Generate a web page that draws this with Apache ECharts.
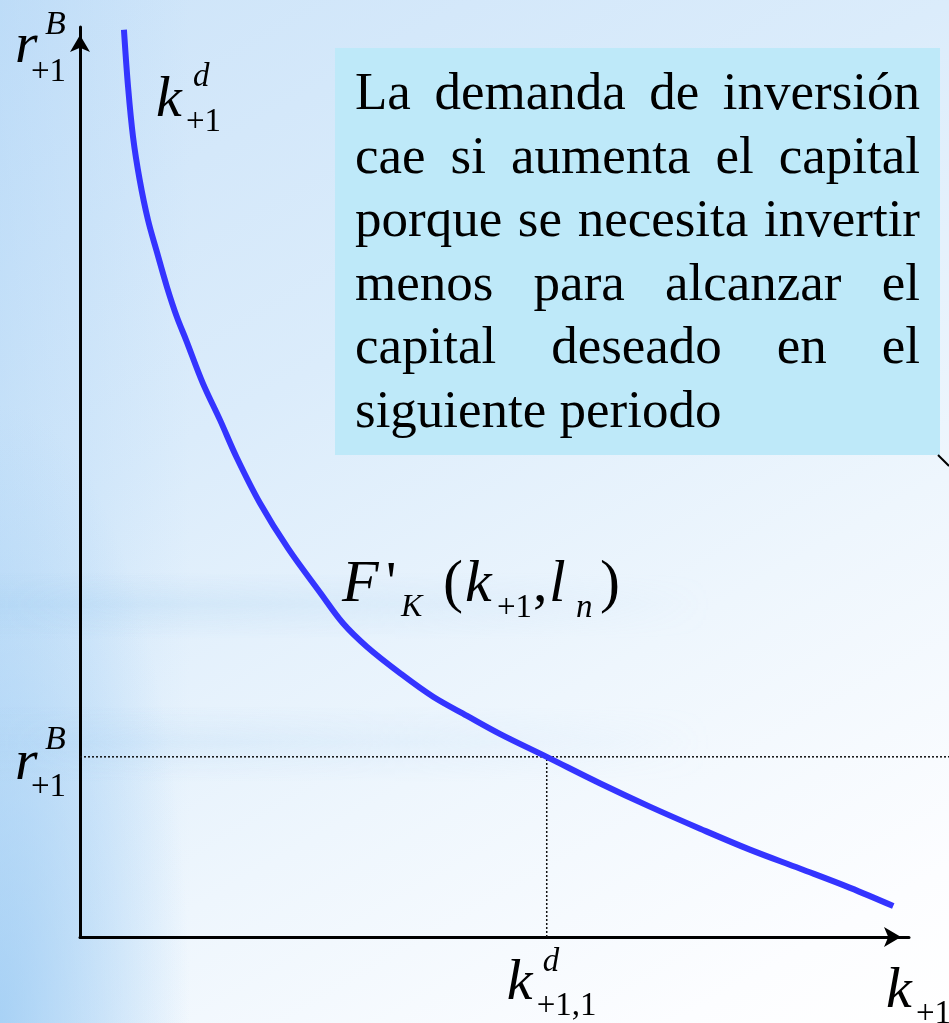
<!DOCTYPE html>
<html>
<head>
<meta charset="utf-8">
<script src="https://cdn.jsdelivr.net/npm/echarts@6/dist/echarts.min.js"></script>
<style>
  html, body { margin: 0; padding: 0; }
  #wrap { position: relative; width: 949px; height: 1023px; overflow: hidden;
    background:
      radial-gradient(ellipse 190px 620px at 0% 100%, rgba(150,200,243,0.7) 0%, rgba(150,200,243,0) 100%),
      linear-gradient(90deg, rgba(160,205,245,0.35) 0%, rgba(160,205,245,0) 20%),
      linear-gradient(150deg, #cde4f9 0%, #dbecfb 35%, #eef6fd 65%, #fcfdff 90%, #ffffff 100%);
  }
  #bands { position: absolute; left: 0; top: 0; width: 949px; height: 1023px;
    background: linear-gradient(180deg,
      rgba(0,0,0,0) 0%, rgba(0,0,0,0) 56%,
      rgba(165,208,242,0.3) 59%, rgba(0,0,0,0) 62.5%,
      rgba(0,0,0,0) 69%, rgba(175,213,245,0.3) 72.5%, rgba(0,0,0,0) 76.5%, rgba(0,0,0,0) 100%);
    -webkit-mask-image: linear-gradient(90deg, #000 0%, rgba(0,0,0,0.6) 35%, rgba(0,0,0,0) 75%);
    mask-image: linear-gradient(90deg, #000 0%, rgba(0,0,0,0.6) 35%, rgba(0,0,0,0) 75%);
  }
  #chart { position: absolute; left: 0; top: 0; width: 949px; height: 1023px; }
</style>
</head>
<body>
<div id="wrap"><div id="bands"></div><div id="chart"></div></div>
<script>
// Demand for capital k(+1) against the interest rate r(+1): F'_K(k+1, l_n)
const capital = [5.3, 5.8, 6.4, 7.2, 8.2, 9.3, 10.5, 11.7, 12.8, 14.8, 16.9, 18.9, 21.7, 25.1, 29.0,
                 31.7, 34.6, 38.6, 42.6, 46.7, 50.7, 56.3, 62.7, 68.8, 74.8, 80.8, 86.9, 92.9, 98.1];
const rate    = [99.7, 93.4, 87.9, 83.2, 78.8, 75.2, 71.4, 68.1, 65.6, 60.9, 56.8, 52.7, 47.7, 42.7, 37.8,
                 34.5, 31.9, 29.0, 26.4, 24.3, 22.3, 19.8, 16.9, 14.3, 11.9, 9.6, 7.5, 5.4, 3.4];
const rateB = 19.8;        // r^B_{+1}
const capitalD = 56.3;     // k^d_{+1,1}
const guideEnd = 104.8;    // horizontal guide runs on past the axis arrow

const noteLines = [
  'La demanda de inversión',
  'cae si aumenta el capital',
  'porque se necesita invertir',
  'menos para alcanzar el',
  'capital deseado en el',
  'siguiente periodo'
];

const SERIF = '"Liberation Serif", "Times New Roman", serif';
const curveData = capital.map((k, i) => [k, rate[i]]);

const axisLineStyle = {
  show: true, onZero: false, symbol: ['none', 'arrow'], symbolSize: [15, 17],
  symbolOffset: [0, -8], lineStyle: { color: '#000', width: 3 }
};
const hiddenParts = { axisTick: { show: false }, axisLabel: { show: false }, splitLine: { show: false } };

const chart = echarts.init(document.getElementById('chart'), null, { renderer: 'canvas' });
chart.setOption({
  backgroundColor: 'transparent',
  animation: false,
  grid: [
    { left: 80, right: 40, top: 27, bottom: 86, containLabel: false, outerBoundsMode: 'none' },
    // same vertical scale, wider horizontal span for the r^B guide
    { left: 80, right: 0, top: 27, bottom: 86, containLabel: false, outerBoundsMode: 'none' }
  ],
  xAxis: [
    Object.assign({ type: 'value', gridIndex: 0, min: 0, max: 100, axisLine: axisLineStyle }, hiddenParts),
    { type: 'value', gridIndex: 1, min: 0, max: guideEnd, show: false }
  ],
  yAxis: [
    Object.assign({ type: 'value', gridIndex: 0, min: 0, max: 100, axisLine: axisLineStyle }, hiddenParts),
    { type: 'value', gridIndex: 1, min: 0, max: 100, show: false }
  ],
  series: [
    { type: 'line', xAxisIndex: 1, yAxisIndex: 1, data: [[0, rateB], [guideEnd, rateB]],
      showSymbol: false, silent: true, lineStyle: { color: '#111', width: 1.5, type: [2, 2] }, z: 1 },
    { type: 'line', data: [[capitalD, 0], [capitalD, rateB]], clip: false, showSymbol: false, silent: true,
      lineStyle: { color: '#111', width: 1.5, type: [2, 2] }, z: 1 },
    { type: 'line', data: curveData, smooth: 0.35, clip: false, showSymbol: false, silent: true,
      lineStyle: { color: '#3434ff', width: 6, cap: 'butt' }, z: 3 }
  ]
});

// text helper: place a glyph run by its alphabetic baseline
function glyph(text, x, baseline, size, italic) {
  return {
    type: 'text', x: x, y: baseline - 0.28 * size, silent: true, z: 10,
    style: { text: text, font: (italic ? 'italic ' : '') + size + 'px ' + SERIF,
             fill: '#000', align: 'left', verticalAlign: 'middle' }
  };
}

const px = (p) => chart.convertToPixel({ gridIndex: 0 }, p);
const eqPt = px([capitalD, rateB]);
const originPt = px([0, 0]);
const yEndPt = px([0, 100]);
const xEndPt = px([100, 0]);
const startPt = px(curveData[0]);
const main = 58, small = 33;

const g = [];
// y-axis name r^B_{+1}
g.push(glyph('r', originPt[0] - 65, yEndPt[1] + 36, main, true));
g.push(glyph('B', originPt[0] - 35, yEndPt[1] + 8, small + 1, true));
g.push(glyph('+1', originPt[0] - 49, yEndPt[1] + 55, small, false));
// r^B_{+1} level
g.push(glyph('r', originPt[0] - 65, eqPt[1] + 23, main, true));
g.push(glyph('B', originPt[0] - 35, eqPt[1] - 7, small + 1, true));
g.push(glyph('+1', originPt[0] - 49, eqPt[1] + 40, small, false));
// k^d_{+1} next to the curve
g.push(glyph('k', startPt[0] + 32, startPt[1] + 87, main, true));
g.push(glyph('d', startPt[0] + 69, startPt[1] + 57, small, true));
g.push(glyph('+1', startPt[0] + 62, startPt[1] + 102, small, false));
// F'_K(k_{+1}, l_n)
const fx = 342, fb = 602;
g.push(glyph('F', fx, fb, main + 2, true));
g.push(glyph('\'', fx + 44, fb, main, false));
g.push(glyph('K', fx + 59, fb + 15, 32, true));
g.push(glyph('(', fx + 101, fb, main + 2, false));
g.push(glyph('k', fx + 123, fb, main + 2, true));
g.push(glyph('+1', fx + 155, fb + 16, small, false));
g.push(glyph(',', fx + 191, fb, main, false));
g.push(glyph('l', fx + 207, fb, main + 2, true));
g.push(glyph('n', fx + 234, fb + 16, small, true));
g.push(glyph(')', fx + 258, fb, main + 2, false));
// k^d_{+1,1} under the equilibrium
g.push(glyph('k', eqPt[0] - 40, originPt[1] + 63, main, true));
g.push(glyph('d', eqPt[0] - 4, originPt[1] + 35, small, true));
g.push(glyph('+1,1', eqPt[0] - 10, originPt[1] + 79, small, false));
// x-axis name k_{+1}
g.push(glyph('k', xEndPt[0] - 23, originPt[1] + 71, main, true));
g.push(glyph('+1', xEndPt[0] + 7, originPt[1] + 87, small, false));

// note box with justified text
const box = { x: 335, y: 48, w: 605, h: 407, padL: 20, padR: 20, first: 110, lead: 63.6, size: 53 };
g.push({ type: 'rect', silent: true, z: 5,
  shape: { x: box.x, y: box.y, width: box.w, height: box.h },
  style: { fill: '#bee9f9' } });
g.push({ type: 'line', silent: true, z: 5,
  shape: { x1: box.x + box.w - 2, y1: box.y + box.h, x2: 949, y2: box.y + box.h + 11 },
  style: { stroke: '#000', lineWidth: 2 } });
const ctx = document.createElement('canvas').getContext('2d');
ctx.font = box.size + 'px ' + SERIF;
const lineW = box.w - box.padL - box.padR;
noteLines.forEach(function (line, i) {
  const words = line.split(' ');
  const widths = words.map(function (w) { return ctx.measureText(w).width; });
  const sum = widths.reduce(function (a, b) { return a + b; }, 0);
  const last = i === noteLines.length - 1;
  const gap = (last || words.length < 2) ? ctx.measureText(' ').width : (lineW - sum) / (words.length - 1);
  let x = box.x + box.padL;
  const base = box.first + i * box.lead;
  words.forEach(function (w, j) {
    g.push(glyph(w, x, base, box.size, false));
    x += widths[j] + gap;
  });
});

chart.setOption({ graphic: { elements: g } });
</script>
</body>
</html>
